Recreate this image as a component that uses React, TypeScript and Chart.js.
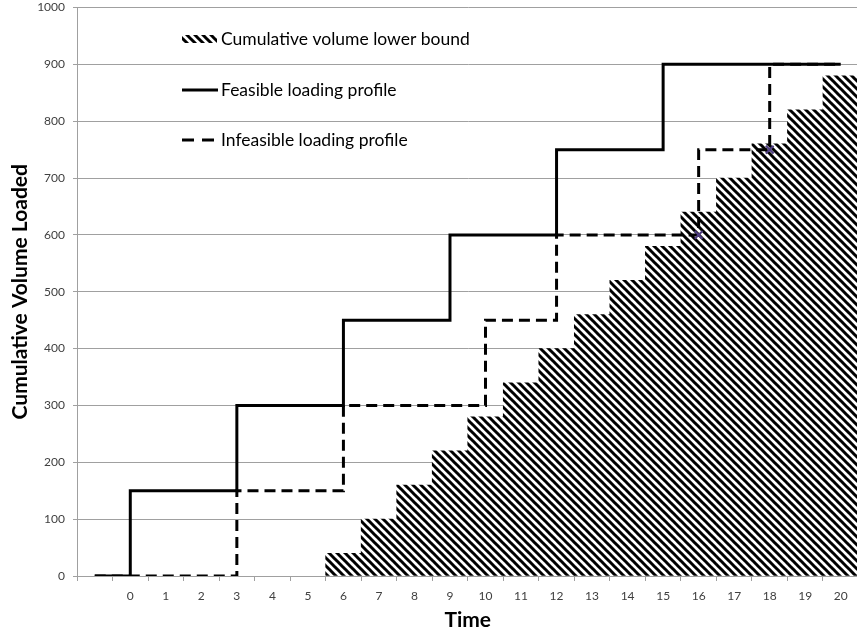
import React, { useEffect, useRef } from "react";
import { Chart, registerables } from "chart.js";

Chart.register(...registerables);

const categories = ["", "0", "1", "2", "3", "4", "5", "6", "7", "8", "9", "10", "11", "12", "13", "14", "15", "16", "17", "18", "19", "20"];
const lowerBound = [null, null, null, null, null, null, null, 40, 100, 160, 220, 280, 340, 400, 460, 520, 580, 640, 700, 760, 820, 880];
const feasible = [0, 150, 150, 150, 300, 300, 300, 450, 450, 450, 600, 600, 600, 750, 750, 750, 900, 900, 900, 900, 900, 900];
const infeasible = [0, 0, 0, 0, 150, 150, 150, 300, 300, 300, 300, 450, 450, 600, 600, 600, 600, 750, 750, 900, 900, 900];
const violations = [null, null, null, null, null, null, null, null, null, null, null, null, null, null, null, null, null, 600, null, 750, null, null];
const legendLabels = ["Cumulative volume lower bound", "Feasible loading profile", "Infeasible loading profile"];
const yTitle = "Cumulative Volume Loaded";
const xTitle = "Time";

const FONT = "Lato, 'Open Sans', sans-serif";

function makeHatch(): CanvasPattern | string {
  const c = document.createElement("canvas");
  c.width = 8;
  c.height = 8;
  const g = c.getContext("2d");
  if (!g) return "#000";
  g.fillStyle = "#fff";
  g.fillRect(0, 0, 8, 8);
  g.strokeStyle = "#000";
  g.lineWidth = 3;
  for (const k of [-8, 0, 8]) {
    g.beginPath();
    g.moveTo(-1, k - 1);
    g.lineTo(9, k + 9);
    g.stroke();
  }
  const p = g.createPattern(c, "repeat");
  return p || "#000";
}

export default function App() {
  const ref = useRef<HTMLCanvasElement | null>(null);

  useEffect(() => {
    document.body.style.margin = "0";
    document.body.style.overflow = "hidden";
    document.documentElement.style.overflow = "hidden";
    const canvas = ref.current;
    if (!canvas) return;
    const hatch = makeHatch();

    const overlay = {
      id: "overlay",
      afterDraw(chart: any) {
        const ctx = chart.ctx;
        const area = chart.chartArea;
        ctx.save();
        // Legend
        const sx = 182;
        ctx.fillStyle = hatch as any;
        ctx.fillRect(sx, 35, 35, 8);
        ctx.strokeStyle = "#000";
        ctx.lineWidth = 3;
        ctx.setLineDash([]);
        ctx.beginPath();
        ctx.moveTo(sx, 90);
        ctx.lineTo(sx + 36, 90);
        ctx.stroke();
        ctx.setLineDash([12, 8]);
        ctx.beginPath();
        ctx.moveTo(sx, 140);
        ctx.lineTo(sx + 32, 140);
        ctx.stroke();
        ctx.setLineDash([]);
        ctx.fillStyle = "#000";
        ctx.font = `17.5px ${FONT}`;
        ctx.textBaseline = "middle";
        ctx.textAlign = "left";
        ctx.fillText(legendLabels[0], 221, 39);
        ctx.fillText(legendLabels[1], 221, 90);
        ctx.fillText(legendLabels[2], 221, 140);
        // Axis titles
        ctx.font = `bold 21px ${FONT}`;
        ctx.textAlign = "center";
        ctx.fillText(xTitle, (area.left + area.right) / 2, 620);
        ctx.translate(20, (area.top + area.bottom) / 2);
        ctx.rotate(-Math.PI / 2);
        ctx.fillText(yTitle, 0, 0);
        ctx.restore();
      },
    };

    const chart = new Chart(canvas, {
      data: {
        labels: categories,
        datasets: [
          {
            type: "line",
            label: "violations",
            data: violations as any,
            showLine: false,
            pointStyle: "crossRot",
            pointRadius: 5.5,
            pointHoverRadius: 5.5,
            borderColor: "#4e3d80",
            backgroundColor: "#4e3d80",
            pointBorderColor: "#4e3d80",
            pointBorderWidth: 2,
            pointBackgroundColor: "#4e3d80",
            order: 0,
          },
          {
            type: "line",
            label: legendLabels[1],
            data: feasible,
            stepped: "before",
            borderColor: "#000",
            borderWidth: 3,
            pointRadius: 0,
            fill: false,
            order: 1,
          },
          {
            type: "line",
            label: legendLabels[2],
            data: infeasible,
            stepped: "before",
            borderColor: "#000",
            borderWidth: 3,
            borderDash: [11, 6],
            pointRadius: 0,
            fill: false,
            order: 2,
          },
          {
            type: "bar",
            label: legendLabels[0],
            data: lowerBound as any,
            backgroundColor: hatch as any,
            borderWidth: 0,
            categoryPercentage: 1,
            barPercentage: 1,
            order: 3,
          },
        ],
      },
      options: {
        animation: false,
        responsive: false,
        maintainAspectRatio: false,
        layout: { padding: { top: 6, right: 5, left: 0, bottom: 0 } },
        plugins: { legend: { display: false }, tooltip: { enabled: false } },
        scales: {
          x: {
            type: "category",
            offset: true,
            grid: { drawOnChartArea: false, drawTicks: true, tickLength: 5, offset: true, color: "#a0a0a0" },
            border: { color: "#a0a0a0" },
            ticks: { font: { family: FONT, size: 12 }, color: "#404040", padding: 8, maxRotation: 0, autoSkip: false },
            afterFit: (s: any) => {
              s.height = 59;
              s.paddingLeft = 0;
              s.paddingRight = 0;
            },
          },
          y: {
            min: 0,
            max: 1000,
            grid: { color: "#a0a0a0", tickLength: 4 },
            border: { color: "#a0a0a0" },
            ticks: {
              stepSize: 100,
              font: { family: FONT, size: 12 },
              color: "#404040",
              padding: 8,
              callback: (v: any) => String(v),
            },
            afterFit: (s: any) => {
              s.width = 77;
              s.paddingTop = 0;
              s.paddingBottom = 0;
            },
          },
        },
      },
      plugins: [overlay],
    } as any);

    return () => chart.destroy();
  }, []);

  return (
    <div style={{ width: 866, height: 635, overflow: "hidden" }}>
      <canvas ref={ref} width={866} height={635} style={{ display: "block", width: 866, height: 635 }} />
    </div>
  );
}
